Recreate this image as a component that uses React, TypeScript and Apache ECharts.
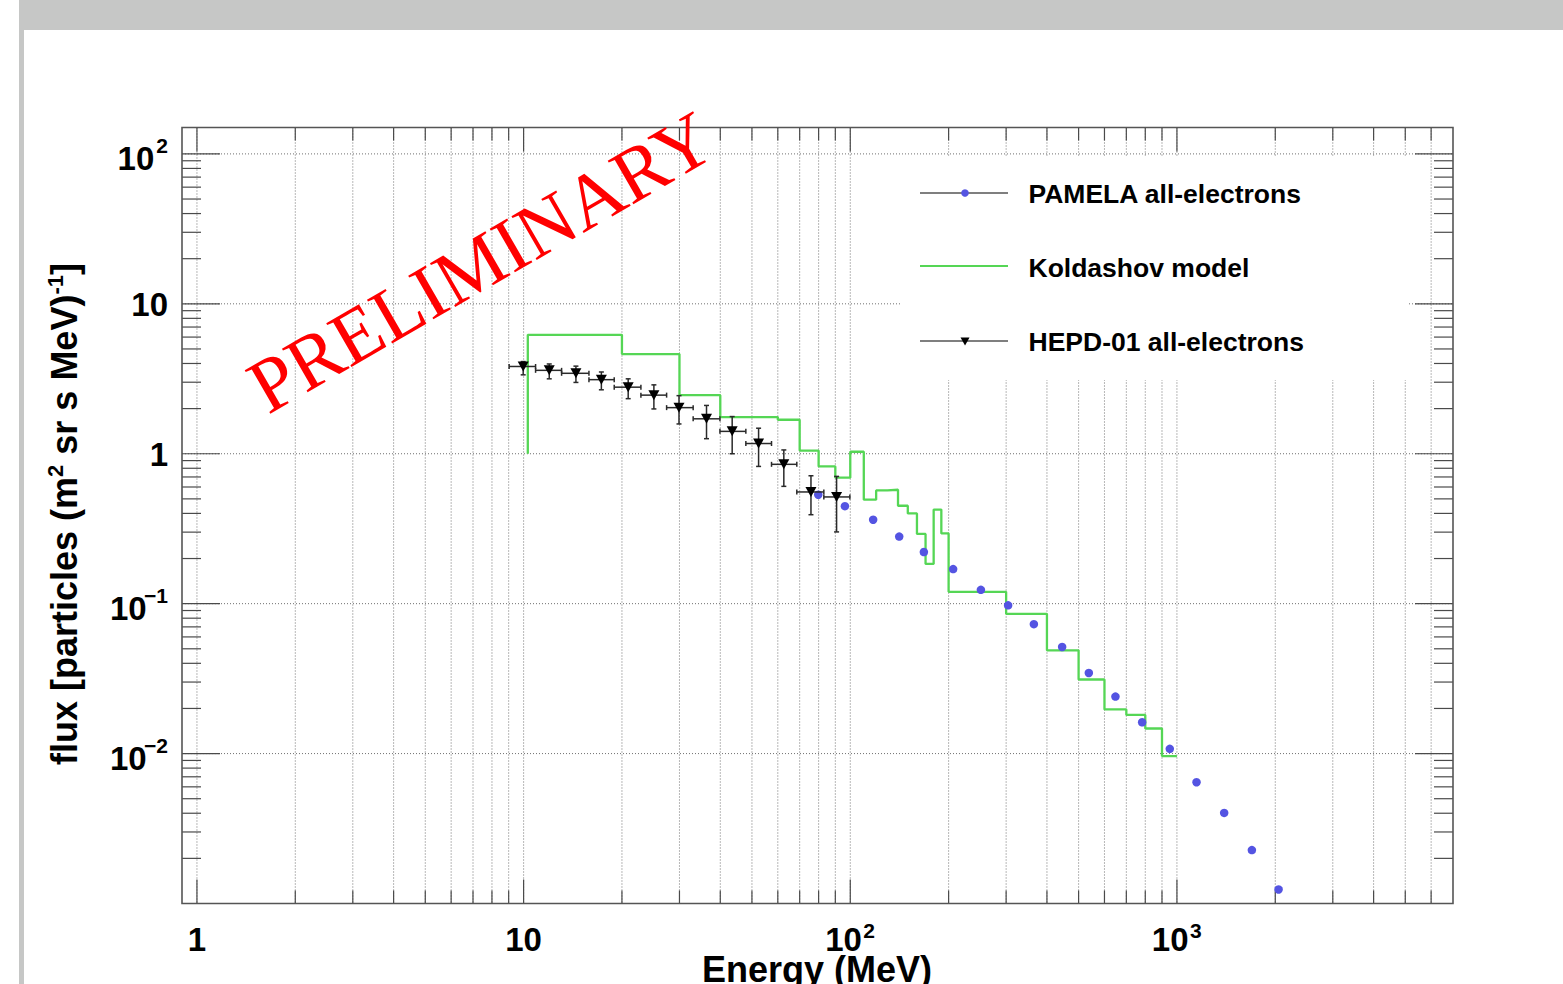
import React, { useEffect, useRef } from "react";
import * as echarts from "echarts";

const FONT = '"Liberation Sans", Arial, Helvetica, sans-serif';
const SERIF = '"Liberation Serif", "Times New Roman", serif';

// Axis ranges (log axes)
const X_RANGE = [0.9, 7000];
const Y_RANGE = [0.001, 150];

// Tick labels
const xTickValues = [1, 10, 100, 1000];
const xTickBase = ["1", "10", "10", "10"];
const xTickExp = ["", "", "2", "3"];
const yTickValues = [100, 10, 1, 0.1, 0.01];
const yTickBase = ["10", "10", "1", "10", "10"];
const yTickExp = ["2", "", "", "\u22121", "\u22122"];

// PAMELA all-electrons
const pamelaEnergy = [79.8, 96.3, 117.5, 141.2, 168.0, 206.5, 251.1, 304.2, 364.8, 445.2, 537.4, 648.3, 782.6, 950.9, 1148, 1395, 1696, 2047];
const pamelaFlux = [0.533, 0.447, 0.363, 0.28, 0.221, 0.17, 0.1236, 0.0974, 0.073, 0.0514, 0.0345, 0.024, 0.01617, 0.01075, 0.00644, 0.00402, 0.00227, 0.00124];

// Koldashov model (histogram: bin edges + contents)
const modelEdges = [10.3, 20, 30, 40, 60, 70, 80, 90, 100, 110, 120, 130, 140, 150, 160, 170, 180, 190, 200, 300, 400, 500, 600, 700, 800, 900, 1000];
const modelFlux = [6.21, 4.62, 2.46, 1.757, 1.685, 1.05, 0.823, 0.692, 1.031, 0.494, 0.569, 0.575, 0.45, 0.4, 0.292, 0.184, 0.424, 0.294, 0.12, 0.0855, 0.0488, 0.0312, 0.0197, 0.0181, 0.0147, 0.00962];
const modelStartFlux = 1;

// HEPD-01 all-electrons
const hepdEnergy = [9.97, 11.98, 14.46, 17.3, 20.9, 25.05, 29.9, 36.3, 43.5, 52.4, 62.6, 75.8, 90.8];
const hepdEnergyLow = [9.03, 10.88, 13.07, 15.85, 18.94, 22.86, 27.4, 33.04, 39.9, 47.9, 57.4, 68.6, 83.0];
const hepdEnergyHigh = [10.88, 13.07, 15.85, 18.94, 22.86, 27.4, 33.04, 39.9, 47.9, 57.4, 68.6, 83.0, 99.7];
const hepdFlux = [3.82, 3.6, 3.44, 3.12, 2.78, 2.46, 2.03, 1.71, 1.41, 1.17, 0.85, 0.556, 0.515];
const hepdFluxLow = [3.36, 3.16, 2.99, 2.67, 2.33, 1.99, 1.58, 1.26, 1.0, 0.823, 0.606, 0.392, 0.301];
const hepdFluxHigh = [4.12, 3.97, 3.84, 3.51, 3.16, 2.88, 2.44, 2.1, 1.77, 1.48, 1.06, 0.713, 0.706];

const DECADES = [0.001, 0.01, 0.1, 1, 10, 100, 1000];
function minorValues(lo: number, hi: number): number[] {
  const out: number[] = [];
  for (const d of DECADES) {
    for (let m = 2; m <= 9; m++) {
      const v = m * d;
      if (v > lo && v < hi) out.push(v);
    }
  }
  return out;
}
const xMinor = minorValues(X_RANGE[0], X_RANGE[1]);
const yMinor = minorValues(Y_RANGE[0], Y_RANGE[1]);

const gridStyle = () => ({ stroke: "#707070", lineWidth: 1, lineDash: [1, 2], fill: null });
const tickStyle = () => ({ stroke: "#4a4a4a", lineWidth: 1.2, fill: null });
const txt = (text: string, x: number, y: number, size: number, align: string, valign: string) => ({
  type: "text",
  silent: true,
  style: {
    text, x, y,
    fill: "#000",
    fontSize: size,
    fontWeight: "bold",
    fontFamily: FONT,
    align, verticalAlign: valign,
    textAlign: align, textVerticalAlign: valign,
  },
});

function renderFrame(_params: any, api: any) {
  const [L, B] = api.coord([X_RANGE[0], Y_RANGE[0]]);
  const [R, T] = api.coord([X_RANGE[1], Y_RANGE[1]]);
  const children: any[] = [];
  const xAll = [...xTickValues, ...xMinor].filter((v) => v > X_RANGE[0] && v < X_RANGE[1]);
  for (const v of xAll) {
    const px = api.coord([v, Y_RANGE[0]])[0];
    children.push({ type: "line", silent: true, shape: { x1: px, y1: T, x2: px, y2: B }, style: gridStyle() });
  }
  for (const v of yTickValues) {
    const py = api.coord([X_RANGE[0], v])[1];
    children.push({ type: "line", silent: true, shape: { x1: L, y1: py, x2: R, y2: py }, style: gridStyle() });
  }
  // x ticks
  for (const v of xAll) {
    const px = api.coord([v, Y_RANGE[0]])[0];
    const len = xTickValues.includes(v) ? 24 : 13;
    children.push({ type: "line", silent: true, shape: { x1: px, y1: B, x2: px, y2: B - len }, style: tickStyle() });
    children.push({ type: "line", silent: true, shape: { x1: px, y1: T, x2: px, y2: T + len }, style: tickStyle() });
  }
  // y ticks
  const yAll = [...yTickValues, ...yMinor].filter((v) => v > Y_RANGE[0] && v < Y_RANGE[1]);
  for (const v of yAll) {
    const py = api.coord([X_RANGE[0], v])[1];
    const len = yTickValues.includes(v) ? 38 : 19;
    children.push({ type: "line", silent: true, shape: { x1: L, y1: py, x2: L + len, y2: py }, style: tickStyle() });
    children.push({ type: "line", silent: true, shape: { x1: R, y1: py, x2: R - len, y2: py }, style: tickStyle() });
  }
  // frame
  children.push({
    type: "rect", silent: true,
    shape: { x: L, y: T, width: R - L, height: B - T },
    style: { fill: null, stroke: "#555", lineWidth: 1.6 },
  });
  // x labels
  xTickValues.forEach((v, i) => {
    const px = api.coord([v, Y_RANGE[0]])[0];
    const base = xTickBase[i];
    const exp = xTickExp[i];
    if (!exp) {
      children.push(txt(base, px, B + 36, 33, "center", "middle"));
    } else {
      const baseW = 36.7;
      const supW = 12.5;
      const left = px - (baseW + 1 + supW) / 2;
      children.push(txt(base, left, B + 36, 33, "left", "middle"));
      children.push(txt(exp, left + baseW + 1.5, B + 27, 21, "left", "middle"));
    }
  });
  // y labels
  yTickValues.forEach((v, i) => {
    const py = api.coord([X_RANGE[0], v])[1];
    const right = L - 14;
    const base = yTickBase[i];
    const exp = yTickExp[i];
    if (!exp) {
      children.push(txt(base, right, py + 1, 33, "right", "middle"));
    } else {
      const supW = exp.length > 1 ? 21.3 : 13.7;
      children.push(txt(exp, right, py - 8, 21, "right", "middle"));
      children.push(txt(base, right - supW, py + 5, 33, "right", "middle"));
    }
  });
  return { type: "group", children };
}

function renderErrorBars(_params: any, api: any) {
  const e = api.value(0);
  const lo = api.value(1);
  const hi = api.value(2);
  const f = api.value(3);
  const flo = api.value(4);
  const fhi = api.value(5);
  const pL = api.coord([lo, f]);
  const pR = api.coord([hi, f]);
  const pB = api.coord([e, flo]);
  const pT = api.coord([e, fhi]);
  const st = () => ({ stroke: "#2a2a2a", lineWidth: 1.5, fill: null });
  const c = 2.5;
  return {
    type: "group",
    children: [
      { type: "line", shape: { x1: pL[0], y1: pL[1], x2: pR[0], y2: pR[1] }, style: st() },
      { type: "line", shape: { x1: pL[0], y1: pL[1] - c, x2: pL[0], y2: pL[1] + c }, style: st() },
      { type: "line", shape: { x1: pR[0], y1: pR[1] - c, x2: pR[0], y2: pR[1] + c }, style: st() },
      { type: "line", shape: { x1: pB[0], y1: pB[1], x2: pT[0], y2: pT[1] }, style: st() },
      { type: "line", shape: { x1: pB[0] - c, y1: pB[1], x2: pB[0] + c, y2: pB[1] }, style: st() },
      { type: "line", shape: { x1: pT[0] - c, y1: pT[1], x2: pT[0] + c, y2: pT[1] }, style: st() },
    ],
  };
}

const PAMELA_COLOR = "#5454e2";
const MODEL_COLOR = "#55d655";

function buildOption(): any {
  const modelData: number[][] = [[modelEdges[0], modelStartFlux]];
  modelFlux.forEach((f, i) => modelData.push([modelEdges[i], f]));
  modelData.push([modelEdges[modelEdges.length - 1], modelFlux[modelFlux.length - 1]]);

  const hepdBars = hepdEnergy.map((e, i) => [e, hepdEnergyLow[i], hepdEnergyHigh[i], hepdFlux[i], hepdFluxLow[i], hepdFluxHigh[i]]);

  const legendRows = [
    { y: 193, label: "PAMELA all-electrons" },
    { y: 266.5, label: "Koldashov model" },
    { y: 341, label: "HEPD-01 all-electrons" },
  ];

  const graphics: any[] = [
    { type: "rect", z: 0, silent: true, shape: { x: 19, y: 0, width: 1544, height: 30 }, style: { fill: "#c6c7c6" } },
    { type: "rect", z: 0, silent: true, shape: { x: 19, y: 0, width: 5, height: 984 }, style: { fill: "#c6c7c6" } },
    // legend
    { type: "rect", z: 10, silent: true, shape: { x: 901, y: 157, width: 508, height: 223 }, style: { fill: "#ffffff" } },
    { type: "line", z: 11, silent: true, shape: { x1: 920, y1: 193, x2: 1008, y2: 193 }, style: { stroke: "#555", lineWidth: 1.5 } },
    { type: "circle", z: 12, silent: true, shape: { cx: 965, cy: 193, r: 3.8 }, style: { fill: PAMELA_COLOR } },
    { type: "line", z: 11, silent: true, shape: { x1: 920, y1: 266, x2: 1008, y2: 266 }, style: { stroke: MODEL_COLOR, lineWidth: 2.2 } },
    { type: "line", z: 11, silent: true, shape: { x1: 920, y1: 341, x2: 1008, y2: 341 }, style: { stroke: "#555", lineWidth: 1.5 } },
    { type: "polygon", z: 12, silent: true, shape: { points: [[960.5, 337.5], [969.5, 337.5], [965, 345.5]] }, style: { fill: "#000" } },
    ...legendRows.map((r) => ({
      type: "text", z: 12, silent: true, x: 1028.5, y: r.y + 1,
      style: { text: r.label, fill: "#000", fontSize: 26.5, fontWeight: "bold", fontFamily: FONT, align: "left", verticalAlign: "middle", textAlign: "left", textVerticalAlign: "middle" },
    })),
    // axis titles
    {
      type: "text", z: 12, silent: true, x: 817, y: 969,
      style: { text: "Energy (MeV)", fill: "#000", fontSize: 36, fontWeight: "bold", fontFamily: FONT, align: "center", verticalAlign: "middle", textAlign: "center", textVerticalAlign: "middle" },
    },
    {
      type: "text", z: 12, silent: true, x: 64, y: 514, rotation: Math.PI / 2,
      style: {
        text: "{t|flux [particles (m}{s|2}{t| sr s MeV)}{s|-1}{t|]}",
        align: "center", verticalAlign: "middle", textAlign: "center", textVerticalAlign: "middle",
        fill: "#000",
        rich: {
          t: { fontSize: 36, fontWeight: "bold", fontFamily: FONT, fill: "#000", color: "#000", lineHeight: 40, verticalAlign: "middle" },
          s: { fontSize: 22, fontWeight: "bold", fontFamily: FONT, fill: "#000", color: "#000", lineHeight: 22, verticalAlign: "top" },
        },
      },
    },
    // watermark
    {
      type: "text", z: 20, silent: true, x: 481, y: 262, rotation: Math.PI / 6,
      style: { text: "PRELIMINARY", fill: "#ff0000", fontSize: 77, fontFamily: SERIF, align: "center", verticalAlign: "middle", textAlign: "center", textVerticalAlign: "middle" },
    },
  ];

  return {
    animation: false,
    backgroundColor: "#ffffff",
    grid: { left: 182, right: 110, top: 127.5, bottom: 80.5, containLabel: false },
    xAxis: {
      type: "log", logBase: 10, min: X_RANGE[0], max: X_RANGE[1],
      axisLine: { show: false }, axisTick: { show: false }, axisLabel: { show: false }, splitLine: { show: false },
    },
    yAxis: {
      type: "log", logBase: 10, min: Y_RANGE[0], max: Y_RANGE[1],
      axisLine: { show: false }, axisTick: { show: false }, axisLabel: { show: false }, splitLine: { show: false },
    },
    graphic: graphics,
    series: [
      {
        type: "custom", name: "frame", z: 1, silent: true,
        renderItem: renderFrame,
        data: [[1, 1]],
        encode: { x: 0, y: 1 },
      },
      {
        type: "line", name: "Koldashov model", z: 3, step: "end", showSymbol: false, symbol: "none",
        data: modelData,
        lineStyle: { color: MODEL_COLOR, width: 2.3 },
        itemStyle: { color: MODEL_COLOR },
      },
      {
        type: "scatter", name: "PAMELA all-electrons", z: 4, symbol: "circle", symbolSize: 8.5,
        data: pamelaEnergy.map((e, i) => [e, pamelaFlux[i]]),
        itemStyle: { color: PAMELA_COLOR, opacity: 1 },
      },
      {
        type: "custom", name: "HEPD-01 errors", z: 5, silent: true,
        renderItem: renderErrorBars,
        data: hepdBars,
        encode: { x: [0, 1, 2], y: [3, 4, 5] },
      },
      {
        type: "scatter", name: "HEPD-01 all-electrons", z: 6, symbol: "triangle", symbolRotate: 180, symbolSize: [11, 10],
        data: hepdEnergy.map((e, i) => [e, hepdFlux[i]]),
        itemStyle: { color: "#000", opacity: 1 },
      },
    ],
  };
}

export default function App() {
  const ref = useRef<HTMLDivElement>(null);
  useEffect(() => {
    if (!ref.current) return;
    const chart = echarts.init(ref.current, undefined, { renderer: "svg" });
    chart.setOption(buildOption());
    return () => chart.dispose();
  }, []);
  return (
    <div
      ref={ref}
      style={{ position: "absolute", left: 0, top: 0, width: 1563, height: 984, background: "#fff" }}
    />
  );
}
